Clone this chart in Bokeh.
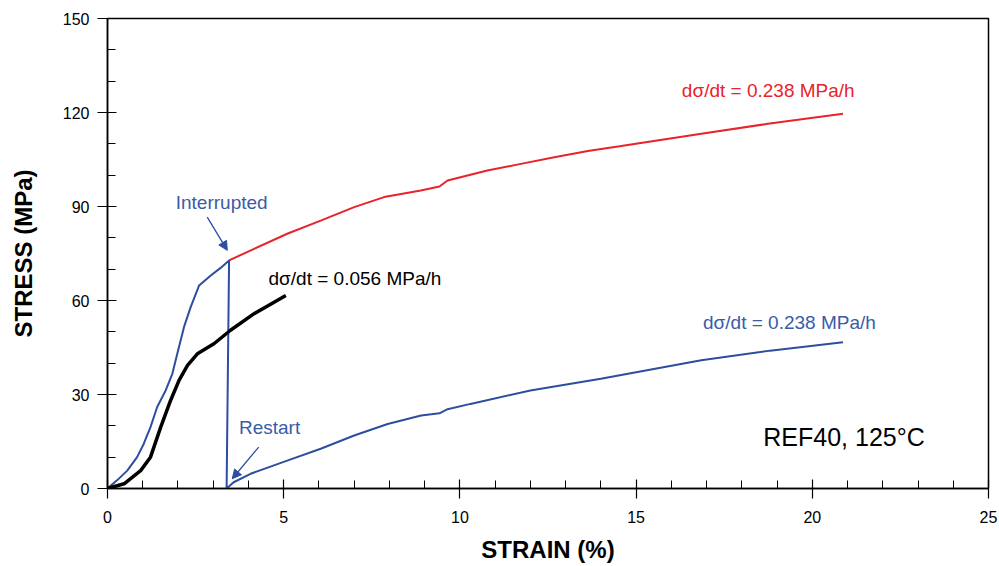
from bokeh.plotting import figure
from bokeh.models import Range1d, FixedTicker, Arrow, NormalHead, Label
from bokeh.embed import file_html
from bokeh.resources import INLINE

# ---- data ----
blue_load_x = [0, 0.27, 0.56, 0.84, 1.03, 1.22, 1.41, 1.65, 1.84, 1.98, 2.17, 2.36, 2.6, 2.93, 3.21, 3.45]
blue_load_y = [0, 2.6, 5.7, 10.0, 14.3, 19.6, 26.0, 31.3, 36.6, 43.0, 51.5, 57.9, 64.8, 68.0, 70.4, 72.8]

blue_restart_x = [3.38, 3.58, 4.06, 5.1, 6.05, 7.0, 7.95, 8.9, 9.42, 9.65, 10.3, 12.0, 14.0, 16.85, 18.8, 20.87]
blue_restart_y = [0.0, 2.0, 4.7, 8.9, 12.7, 16.9, 20.6, 23.3, 24.0, 25.3, 27.0, 31.3, 35.0, 40.9, 44.0, 46.7]

red_x = [3.45, 4.16, 5.1, 6.05, 7.0, 7.85, 8.89, 9.42, 9.65, 10.78, 11.73, 12.68, 13.63, 14.53, 16.85, 18.74, 20.87]
red_y = [72.8, 76.5, 81.3, 85.5, 89.8, 93.0, 95.1, 96.4, 98.3, 101.5, 103.6, 105.7, 107.7, 109.2, 113.2, 116.4, 119.6]

black_x = [0, 0.47, 0.94, 1.22, 1.51, 1.79, 2.03, 2.27, 2.55, 3.02, 3.49, 4.16, 5.06]
black_y = [0, 1.5, 5.7, 10.0, 19.6, 28.1, 34.5, 39.3, 43.0, 46.2, 50.5, 55.8, 61.6]

x_major = [0, 5, 10, 15, 20, 25]
x_minor = list(range(0, 26))
y_major = [0, 30, 60, 90, 120, 150]
y_minor = list(range(0, 151, 10))

BLUE = "#2D4E9F"
TBLUE = "#3A5BA8"
RED = "#E8232A"
FONT = "Liberation Sans"

p = figure(width=999, height=566, output_backend="svg", toolbar_location=None,
           x_range=Range1d(0, 25), y_range=Range1d(0, 150),
           min_border_left=107, min_border_right=11, min_border_top=18, min_border_bottom=78)
p.background_fill_color = "white"
p.border_fill_color = "white"
p.outline_line_color = "black"
p.outline_line_width = 1.5
p.xgrid.visible = False
p.ygrid.visible = False

for ax, maj, mnr in ((p.xaxis[0], x_major, x_minor), (p.yaxis[0], y_major, y_minor)):
    ax.ticker = FixedTicker(ticks=maj, minor_ticks=mnr)
    ax.axis_line_color = "black"
    ax.axis_line_width = 1.5
    ax.major_tick_line_color = "black"
    ax.minor_tick_line_color = "black"
    ax.major_tick_line_width = 1.2
    ax.minor_tick_line_width = 1
    ax.major_tick_in = 9
    ax.major_tick_out = 10
    ax.minor_tick_in = 8
    ax.minor_tick_out = 0
    ax.major_label_text_font = FONT
    ax.major_label_text_font_size = "16px"
    ax.major_label_text_color = "black"
    ax.axis_label_text_font = FONT
    ax.axis_label_text_font_style = "bold"
    ax.axis_label_text_font_size = "24px"
    ax.axis_label_text_color = "black"

p.xaxis.axis_label = "STRAIN (%)"
p.yaxis.axis_label = "STRESS (MPa)"
p.xaxis.major_label_standoff = 12
p.xaxis.axis_label_standoff = 10
p.yaxis.major_label_standoff = 8
p.yaxis.axis_label_standoff = 23

# curves
p.line(red_x, red_y, line_color=RED, line_width=2)
p.line(blue_load_x + blue_restart_x, blue_load_y + blue_restart_y, line_color=BLUE, line_width=2)
p.line(black_x, black_y, line_color="black", line_width=3.5)

# arrows
p.add_layout(Arrow(end=NormalHead(size=9, fill_color=BLUE, line_color=BLUE),
                   x_start=2.83, y_start=86.6, x_end=3.40, y_end=76.0,
                   line_color=BLUE, line_width=1.3))
p.add_layout(Arrow(end=NormalHead(size=9, fill_color=BLUE, line_color=BLUE),
                   x_start=4.29, y_start=13.2, x_end=3.54, y_end=3.1,
                   line_color=BLUE, line_width=1.3))

def lab(x, y, t, color, size, align="center"):
    p.add_layout(Label(x=x, y=y, text=t, text_color=color, text_font=FONT,
                       text_font_size=size, text_align=align, text_baseline="middle"))

lab(3.24, 91.3, "Interrupted", TBLUE, "19px")
lab(4.6, 19.5, "Restart", TBLUE, "19px")
lab(4.57, 67.0, "d\u03c3/dt = 0.056 MPa/h", "black", "19px", "left")
lab(18.75, 127.0, "d\u03c3/dt = 0.238 MPa/h", RED, "19px")
lab(19.35, 53.0, "d\u03c3/dt = 0.238 MPa/h", TBLUE, "19px")
lab(20.9, 16.3, "REF40, 125\u00b0C", "black", "25px")

open("out.html", "w").write(file_html(p, INLINE))
